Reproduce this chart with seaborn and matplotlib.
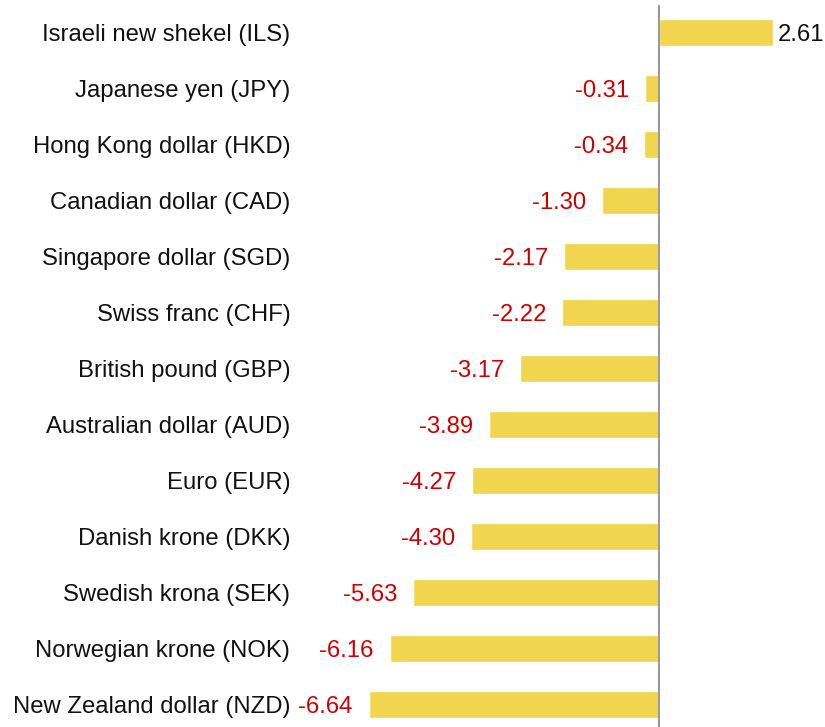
import matplotlib
matplotlib.use("Agg")
import matplotlib.pyplot as plt
import seaborn as sns
import pandas as pd

currencies = [
    "Israeli new shekel (ILS)", "Japanese yen (JPY)", "Hong Kong dollar (HKD)",
    "Canadian dollar (CAD)", "Singapore dollar (SGD)", "Swiss franc (CHF)",
    "British pound (GBP)", "Australian dollar (AUD)", "Euro (EUR)",
    "Danish krone (DKK)", "Swedish krona (SEK)", "Norwegian krone (NOK)",
    "New Zealand dollar (NZD)",
]
values = [2.61, -0.31, -0.34, -1.30, -2.17, -2.22, -3.17, -3.89, -4.27,
          -4.30, -5.63, -6.16, -6.64]

df = pd.DataFrame({"currency": currencies, "value": values})

sns.set_style("white")
plt.rcParams["font.family"] = ["Liberation Sans", "DejaVu Sans"]

W, H = 825, 727
fig = plt.figure(figsize=(W / 100, H / 100), dpi=100)
left_px = 300
top_px = 4.5
bottom_px = 732.5
ax = fig.add_axes([left_px / W, (H - bottom_px) / H, (W - left_px) / W, (bottom_px - top_px) / H])

sns.barplot(data=df, x="value", y="currency", orient="h", color="#F2D54E",
            saturation=1, width=0.48, ax=ax)

scale = 43.7
ax.set_xlim((left_px - 659) / scale, (W - 659) / scale)
ax.set_ylim(len(currencies) - 0.5, -0.5)

ax.axvline(0, color="#9a9a9a", lw=1.5, zorder=3)

fs = 17.2
for i, v in enumerate(values):
    if v >= 0:
        ax.annotate(f"{v:.2f}", (v, i), xytext=(3.5, 0), textcoords="offset points",
                    ha="left", va="center_baseline", fontsize=fs, color="#111111")
    else:
        ax.annotate(f"{v:.2f}", (v, i), xytext=(-11.5, 0), textcoords="offset points",
                    ha="right", va="center_baseline", fontsize=fs, color="#CC0000")

ax.set_xlabel("")
ax.set_ylabel("")
ax.set_xticks([])
ax.tick_params(axis="y", length=0, pad=7, labelsize=fs, labelcolor="#111111")
for s in ax.spines.values():
    s.set_visible(False)

fig.savefig("out.png", dpi=100)
